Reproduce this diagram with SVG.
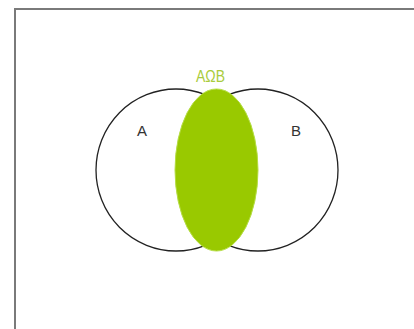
<svg xmlns="http://www.w3.org/2000/svg" width="414" height="329" viewBox="0 0 414 329">
<style>
.set{fill:none;stroke:#222;stroke-width:1.3}
.lbl{font-family:"Liberation Sans",Arial,sans-serif;font-size:15px;fill:#333}
</style>
<rect x="0" y="0" width="414" height="329" fill="#fff"/>
<rect x="15" y="9" width="410" height="330" fill="#fff" stroke="#7a7a7a" stroke-width="2"/>
<g id="setA"><ellipse class="set" cx="176" cy="170" rx="80" ry="81"/><text class="lbl" x="137" y="136">A</text></g>
<g id="setB"><ellipse class="set" cx="258" cy="170" rx="80" ry="81"/><text class="lbl" x="291" y="136">B</text></g>
<g id="intersection"><ellipse cx="216.5" cy="170" rx="41.5" ry="81" fill="#99c900" stroke="#b5dd44" stroke-width="1"/><text x="210.5" y="82" text-anchor="middle" textLength="29" lengthAdjust="spacingAndGlyphs" style="font-family:'Liberation Sans',Arial,sans-serif;font-size:16px;fill:#a9cc3c">AΩB</text></g>
</svg>
